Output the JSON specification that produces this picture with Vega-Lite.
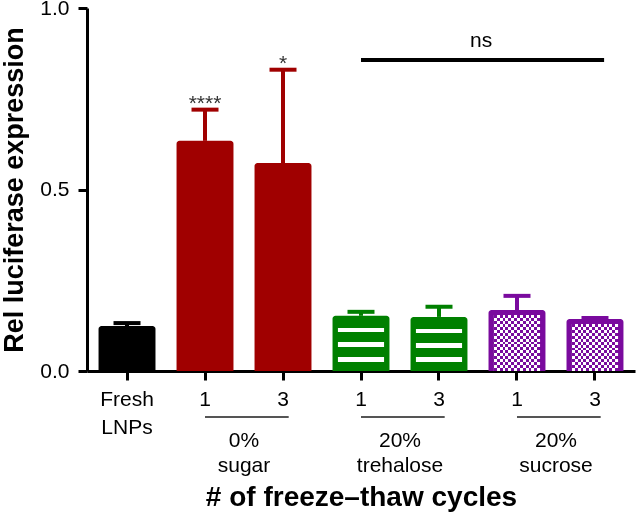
{
  "$schema": "https://vega.github.io/schema/vega-lite/v6.json",
  "width": 548,
  "height": 363,
  "autosize": "none",
  "padding": {"left": 87, "top": 8, "right": 1, "bottom": 143},
  "config": {
    "view": {"stroke": null},
    "font": "Liberation Sans",
    "axis": {"domainColor": "#000000", "tickColor": "#000000", "labelColor": "#000000", "titleColor": "#000000", "grid": false}
  },
  "datasets": {
    "bars": [
      {"id": "fresh", "group": "fresh", "value": 0.124, "hi": 0.132, "star": ""},
      {"id": "sugar-1", "group": "sugar", "value": 0.634, "hi": 0.72, "star": "****"},
      {"id": "sugar-3", "group": "sugar", "value": 0.573, "hi": 0.83, "star": "*"},
      {"id": "tre-1", "group": "tre", "value": 0.152, "hi": 0.163, "star": ""},
      {"id": "tre-3", "group": "tre", "value": 0.149, "hi": 0.177, "star": ""},
      {"id": "suc-1", "group": "suc", "value": 0.168, "hi": 0.207, "star": ""},
      {"id": "suc-3", "group": "suc", "value": 0.143, "hi": 0.146, "star": ""}
    ],
    "groups": [
      {"first": "sugar-1", "second": "sugar-3", "label": "0%\nsugar"},
      {"first": "tre-1", "second": "tre-3", "label": "20%\ntrehalose"},
      {"first": "suc-1", "second": "suc-3", "label": "20%\nsucrose"}
    ],
    "ns": [{"from": "tre-1", "to": "suc-3", "mid": "tre-3", "y": 0.857, "label": "ns"}]
  },
  "layer": [
    {
      "data": {"name": "bars"},
      "mark": {"type": "bar", "cornerRadiusEnd": 3},
      "encoding": {
        "x": {
          "field": "id", "type": "nominal", "sort": null, "title": "# of freeze–thaw cycles",
          "scale": {"domain": ["fresh", "sugar-1", "sugar-3", "tre-1", "tre-3", "suc-1", "suc-3"], "paddingInner": 0.27, "paddingOuter": 0.148},
          "axis": {
            "labelExpr": "datum.value == 'fresh' ? ['Fresh', 'LNPs'] : slice(datum.value, -1)",
            "labelAngle": 0, "labelFontSize": 21, "labelLineHeight": 28, "labelPadding": 8,
            "tickSize": 9, "tickWidth": 3, "domainWidth": 3,
            "titleFontSize": 28, "titleFontWeight": "bold", "titlePadding": 46
          }
        },
        "y": {
          "field": "value", "type": "quantitative", "stack": null, "title": "Rel luciferase expression",
          "scale": {"domain": [0, 1], "nice": false},
          "axis": {
            "values": [0, 0.5, 1], "format": ".1f",
            "labelFontSize": 21, "tickSize": 9, "tickWidth": 3, "domainWidth": 3, "labelPadding": 9,
            "titleFontSize": 27, "titleFontWeight": "bold", "titlePadding": 11
          }
        },
        "color": {
          "field": "group", "type": "nominal",
          "scale": {"domain": ["fresh", "sugar", "tre", "suc"], "range": ["#000000", "#A00000", "#008000", "#7A0A9E"]},
          "legend": null
        }
      }
    },
    {
      "data": {"name": "bars"},
      "transform": [{"filter": "datum.group == 'tre'"}],
      "mark": {
        "type": "bar", "width": {"band": 0.81}, "yOffset": 5,
        "fill": {"gradient": "linear", "x1": 0, "y1": 0, "x2": 0, "y2": 1, "stops": [
          {"offset": 0, "color": "#008000"}, {"offset": 0.14, "color": "#008000"},
          {"offset": 0.14, "color": "#ffffff"}, {"offset": 0.225, "color": "#ffffff"},
          {"offset": 0.225, "color": "#008000"}, {"offset": 0.425, "color": "#008000"},
          {"offset": 0.425, "color": "#ffffff"}, {"offset": 0.525, "color": "#ffffff"},
          {"offset": 0.525, "color": "#008000"}, {"offset": 0.72, "color": "#008000"},
          {"offset": 0.72, "color": "#ffffff"}, {"offset": 0.82, "color": "#ffffff"},
          {"offset": 0.82, "color": "#008000"}, {"offset": 1, "color": "#008000"}
        ]}
      },
      "encoding": {
        "x": {"field": "id", "type": "nominal", "title": "# of freeze–thaw cycles"},
        "y": {"field": "value", "type": "quantitative", "stack": null, "title": "Rel luciferase expression"}
      }
    },
    {
      "data": {"name": "bars"},
      "transform": [{"filter": "datum.id == 'suc-1'"}],
      "mark": {
        "type": "bar", "width": {"band": 0.81}, "yOffset": 5,
        "fill": {"gradient": "linear", "x1": 0, "y1": 0, "x2": 0, "y2": 1, "stops": [
          {"offset": 0, "color": "#ffffff"}, {"offset": 0.0526, "color": "#ffffff"},
          {"offset": 0.0526, "color": "#000000"}, {"offset": 0.1053, "color": "#000000"},
          {"offset": 0.1053, "color": "#ffffff"}, {"offset": 0.1579, "color": "#ffffff"},
          {"offset": 0.1579, "color": "#000000"}, {"offset": 0.2105, "color": "#000000"},
          {"offset": 0.2105, "color": "#ffffff"}, {"offset": 0.2632, "color": "#ffffff"},
          {"offset": 0.2632, "color": "#000000"}, {"offset": 0.3158, "color": "#000000"},
          {"offset": 0.3158, "color": "#ffffff"}, {"offset": 0.3684, "color": "#ffffff"},
          {"offset": 0.3684, "color": "#000000"}, {"offset": 0.4211, "color": "#000000"},
          {"offset": 0.4211, "color": "#ffffff"}, {"offset": 0.4737, "color": "#ffffff"},
          {"offset": 0.4737, "color": "#000000"}, {"offset": 0.5263, "color": "#000000"},
          {"offset": 0.5263, "color": "#ffffff"}, {"offset": 0.5789, "color": "#ffffff"},
          {"offset": 0.5789, "color": "#000000"}, {"offset": 0.6316, "color": "#000000"},
          {"offset": 0.6316, "color": "#ffffff"}, {"offset": 0.6842, "color": "#ffffff"},
          {"offset": 0.6842, "color": "#000000"}, {"offset": 0.7368, "color": "#000000"},
          {"offset": 0.7368, "color": "#ffffff"}, {"offset": 0.7895, "color": "#ffffff"},
          {"offset": 0.7895, "color": "#000000"}, {"offset": 0.8421, "color": "#000000"},
          {"offset": 0.8421, "color": "#ffffff"}, {"offset": 0.8947, "color": "#ffffff"},
          {"offset": 0.8947, "color": "#000000"}, {"offset": 0.9474, "color": "#000000"},
          {"offset": 0.9474, "color": "#ffffff"}, {"offset": 1, "color": "#ffffff"}
        ]}
      },
      "encoding": {
        "x": {"field": "id", "type": "nominal", "title": "# of freeze–thaw cycles"},
        "y": {"field": "value", "type": "quantitative", "stack": null, "title": "Rel luciferase expression"}
      }
    },
    {
      "data": {"name": "bars"},
      "transform": [{"filter": "datum.id == 'suc-3'"}],
      "mark": {
        "type": "bar", "width": {"band": 0.81}, "yOffset": 5,
        "fill": {"gradient": "linear", "x1": 0, "y1": 0, "x2": 0, "y2": 1, "stops": [
          {"offset": 0, "color": "#ffffff"}, {"offset": 0.0625, "color": "#ffffff"},
          {"offset": 0.0625, "color": "#000000"}, {"offset": 0.125, "color": "#000000"},
          {"offset": 0.125, "color": "#ffffff"}, {"offset": 0.1875, "color": "#ffffff"},
          {"offset": 0.1875, "color": "#000000"}, {"offset": 0.25, "color": "#000000"},
          {"offset": 0.25, "color": "#ffffff"}, {"offset": 0.3125, "color": "#ffffff"},
          {"offset": 0.3125, "color": "#000000"}, {"offset": 0.375, "color": "#000000"},
          {"offset": 0.375, "color": "#ffffff"}, {"offset": 0.4375, "color": "#ffffff"},
          {"offset": 0.4375, "color": "#000000"}, {"offset": 0.5, "color": "#000000"},
          {"offset": 0.5, "color": "#ffffff"}, {"offset": 0.5625, "color": "#ffffff"},
          {"offset": 0.5625, "color": "#000000"}, {"offset": 0.625, "color": "#000000"},
          {"offset": 0.625, "color": "#ffffff"}, {"offset": 0.6875, "color": "#ffffff"},
          {"offset": 0.6875, "color": "#000000"}, {"offset": 0.75, "color": "#000000"},
          {"offset": 0.75, "color": "#ffffff"}, {"offset": 0.8125, "color": "#ffffff"},
          {"offset": 0.8125, "color": "#000000"}, {"offset": 0.875, "color": "#000000"},
          {"offset": 0.875, "color": "#ffffff"}, {"offset": 0.9375, "color": "#ffffff"},
          {"offset": 0.9375, "color": "#000000"}, {"offset": 1, "color": "#000000"}
        ]}
      },
      "encoding": {
        "x": {"field": "id", "type": "nominal", "title": "# of freeze–thaw cycles"},
        "y": {"field": "value", "type": "quantitative", "stack": null, "title": "Rel luciferase expression"}
      }
    },
    {
      "data": {"name": "bars"},
      "transform": [{"filter": "datum.group == 'suc'"}],
      "mark": {
        "type": "bar", "width": {"band": 0.81}, "yOffset": 5, "blend": "difference",
        "fill": {"gradient": "linear", "x1": 0, "y1": 0, "x2": 1, "y2": 0, "stops": [
          {"offset": 0, "color": "#ffffff"}, {"offset": 0.0625, "color": "#ffffff"},
          {"offset": 0.0625, "color": "#000000"}, {"offset": 0.125, "color": "#000000"},
          {"offset": 0.125, "color": "#ffffff"}, {"offset": 0.1875, "color": "#ffffff"},
          {"offset": 0.1875, "color": "#000000"}, {"offset": 0.25, "color": "#000000"},
          {"offset": 0.25, "color": "#ffffff"}, {"offset": 0.3125, "color": "#ffffff"},
          {"offset": 0.3125, "color": "#000000"}, {"offset": 0.375, "color": "#000000"},
          {"offset": 0.375, "color": "#ffffff"}, {"offset": 0.4375, "color": "#ffffff"},
          {"offset": 0.4375, "color": "#000000"}, {"offset": 0.5, "color": "#000000"},
          {"offset": 0.5, "color": "#ffffff"}, {"offset": 0.5625, "color": "#ffffff"},
          {"offset": 0.5625, "color": "#000000"}, {"offset": 0.625, "color": "#000000"},
          {"offset": 0.625, "color": "#ffffff"}, {"offset": 0.6875, "color": "#ffffff"},
          {"offset": 0.6875, "color": "#000000"}, {"offset": 0.75, "color": "#000000"},
          {"offset": 0.75, "color": "#ffffff"}, {"offset": 0.8125, "color": "#ffffff"},
          {"offset": 0.8125, "color": "#000000"}, {"offset": 0.875, "color": "#000000"},
          {"offset": 0.875, "color": "#ffffff"}, {"offset": 0.9375, "color": "#ffffff"},
          {"offset": 0.9375, "color": "#000000"}, {"offset": 1, "color": "#000000"}
        ]}
      },
      "encoding": {
        "x": {"field": "id", "type": "nominal", "title": "# of freeze–thaw cycles"},
        "y": {"field": "value", "type": "quantitative", "stack": null, "title": "Rel luciferase expression"}
      }
    },
    {
      "data": {"name": "bars"},
      "transform": [{"filter": "datum.group == 'suc'"}],
      "mark": {"type": "bar", "width": {"band": 0.81}, "yOffset": 5, "blend": "screen", "fill": "#7A0A9E"},
      "encoding": {
        "x": {"field": "id", "type": "nominal", "title": "# of freeze–thaw cycles"},
        "y": {"field": "value", "type": "quantitative", "stack": null, "title": "Rel luciferase expression"}
      }
    },
    {
      "data": {"name": "bars"},
      "mark": {"type": "rule", "strokeWidth": 4},
      "encoding": {
        "x": {"field": "id", "type": "nominal", "title": "# of freeze–thaw cycles"},
        "y": {"field": "value", "type": "quantitative", "title": "Rel luciferase expression"},
        "y2": {"field": "hi"},
        "color": {"field": "group", "type": "nominal", "legend": null}
      }
    },
    {
      "data": {"name": "bars"},
      "mark": {"type": "tick", "thickness": 4, "size": 27, "opacity": 1},
      "encoding": {
        "x": {"field": "id", "type": "nominal", "title": "# of freeze–thaw cycles"},
        "y": {"field": "hi", "type": "quantitative", "title": "Rel luciferase expression"},
        "color": {"field": "group", "type": "nominal", "legend": null}
      }
    },
    {
      "data": {"name": "bars"},
      "transform": [{"filter": "datum.star != ''"}],
      "mark": {"type": "text", "fontSize": 21, "baseline": "alphabetic", "align": "center", "color": "#333333"},
      "encoding": {
        "x": {"field": "id", "type": "nominal", "title": "# of freeze–thaw cycles"},
        "y": {"field": "hi", "type": "quantitative", "title": "Rel luciferase expression"},
        "text": {"field": "star"}
      }
    },
    {
      "data": {"name": "ns"},
      "mark": {"type": "rule", "strokeWidth": 4, "color": "#000000"},
      "encoding": {
        "x": {"field": "to", "type": "nominal", "bandPosition": 0.66, "title": "# of freeze–thaw cycles"},
        "x2": {"field": "from"},
        "y": {"field": "y", "type": "quantitative", "title": "Rel luciferase expression"}
      }
    },
    {
      "data": {"name": "ns"},
      "mark": {"type": "text", "fontSize": 21, "baseline": "alphabetic", "align": "center", "dy": -13, "color": "#000000"},
      "encoding": {
        "x": {"field": "mid", "type": "nominal", "bandPosition": 1.24, "title": "# of freeze–thaw cycles"},
        "y": {"field": "y", "type": "quantitative", "title": "Rel luciferase expression"},
        "text": {"field": "label"}
      }
    },
    {
      "data": {"name": "groups"},
      "mark": {"type": "rule", "strokeWidth": 2, "color": "#555555"},
      "encoding": {
        "x": {"field": "second", "type": "nominal", "bandPosition": 0.6, "title": "# of freeze–thaw cycles"},
        "x2": {"field": "first"},
        "y": {"datum": -0.127, "type": "quantitative", "title": "Rel luciferase expression"}
      }
    },
    {
      "data": {"name": "groups"},
      "mark": {"type": "text", "fontSize": 21, "baseline": "alphabetic", "align": "center", "lineBreak": "\n", "lineHeight": 25, "color": "#000000"},
      "encoding": {
        "x": {"field": "first", "type": "nominal", "bandPosition": 1.185, "title": "# of freeze–thaw cycles"},
        "y": {"datum": -0.2085, "type": "quantitative", "title": "Rel luciferase expression"},
        "text": {"field": "label"}
      }
    }
  ]
}
